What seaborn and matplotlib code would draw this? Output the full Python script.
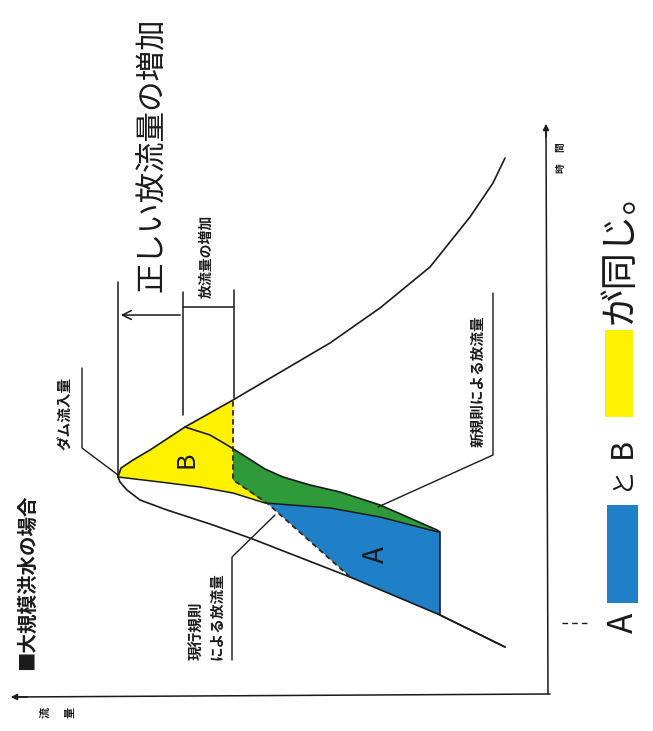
import numpy as np
import pandas as pd
import matplotlib
matplotlib.use("Agg")
import matplotlib.pyplot as plt
import seaborn as sns

sns.set_theme(style="white")
plt.rcParams['font.family'] = ['Noto Sans CJK JP', 'DejaVu Sans']

# ---- data (time upward, flow leftward, as in the rotated scan) ----
inflow_time = [43, 75, 113, 152, 166, 180, 190, 200, 208, 213, 222, 230, 240, 263, 290, 310, 347, 382, 423, 473, 507, 532]
inflow_flow = [40, 105, 195, 295, 335, 378, 405, 418, 425, 427, 424, 412, 395, 360, 312, 278, 215, 165, 115, 75, 52, 40]

new_rule_time = [43, 75, 158, 160, 185, 198, 205, 213, 221, 235, 245, 255, 263]
new_rule_flow = [40, 105, 105, 108, 165, 205, 235, 262, 280, 302, 318, 335, 360]

peak_line_time = [158, 173, 182, 187, 197, 203, 208, 213]
peak_line_flow = [107, 165, 215, 280, 312, 345, 385, 427]

current_rule_time = [113, 187, 210, 290]
current_rule_flow = [195, 278, 312, 312]

BLUE = "#1f80c8"
YELLOW = "#fff200"
GREEN = "#2f9a3a"
INK = "#1a1a1a"

W, H = 653, 731
fig = plt.figure(figsize=(W / 100, H / 100), dpi=100)
ax = fig.add_axes([0, 0, 1, 1])
ax.set_xlim(545, 545 - W)
ax.set_ylim(690 - H, 690)
ax.axis("off")


def P(px, py):
    """layout helper: pixel position of the scan -> data coords"""
    return 545 - px, 690 - py


inf = pd.DataFrame({"time": inflow_time, "flow": inflow_flow})
new = pd.DataFrame({"time": new_rule_time, "flow": new_rule_flow})
pk = pd.DataFrame({"time": peak_line_time, "flow": peak_line_flow})
cur = pd.DataFrame({"time": current_rule_time, "flow": current_rule_flow})

# ---- coloured areas ----
# A (blue): peak line (low part) -> new-rule constant -> inflow -> current rule
a_f = list(pk.flow[:4][::-1]) + [new.flow[2], new.flow[1]] + [inf.flow[2]] + [cur.flow[1]]
a_t = list(pk.time[:4][::-1]) + [new.time[2], new.time[1]] + [inf.time[2]] + [cur.time[1]]
ax.fill(a_f, a_t, color=BLUE, lw=0, zorder=1)

# B (yellow): inflow from peak to current-rule max, current rule down, peak line back
b_f = list(inf.flow[9:15]) + [cur.flow[2], cur.flow[1]] + list(pk.flow[3:])
b_t = list(inf.time[9:15]) + [cur.time[2], cur.time[1]] + list(pk.time[3:])
ax.fill(b_f, b_t, color=YELLOW, lw=0, zorder=1)

# green strip between new rule and peak line
t_cross = np.interp(312, new.flow[8:11], new.time[8:11])
sel = new.flow < 312
g_f = [312] + list(new.flow[sel][::-1][:-2]) + list(pk.flow[:4]) + [cur.flow[2]]
g_t = [t_cross] + list(new.time[sel][::-1][:-2]) + list(pk.time[:4]) + [cur.time[2]]
ax.fill(g_f, g_t, color=GREEN, lw=0, zorder=1)

# ---- curves ----
kw = dict(sort=False, estimator=None, ax=ax, legend=False)
sns.lineplot(data=inf, x="flow", y="time", color=INK, lw=1.2, zorder=3, **kw)
sns.lineplot(data=new, x="flow", y="time", color=INK, lw=1.2, zorder=3, **kw)
sns.lineplot(data=pk, x="flow", y="time", color=INK, lw=1.1, zorder=3, **kw)
sns.lineplot(data=cur, x="flow", y="time", color="#3b2416", lw=1.3, zorder=3,
             linestyle=(0, (3, 2)), **kw)

# ---- axes with arrows ----
ax.plot(*zip(P(550, 694), P(14, 697)), color=INK, lw=1.1)
ax.annotate("", xy=P(8, 697), xytext=P(30, 697),
            arrowprops=dict(arrowstyle="-|>", color=INK, lw=1.1, mutation_scale=9))
ax.plot(*zip(P(548, 694), P(546, 128)), color=INK, lw=1.1)
ax.annotate("", xy=P(546, 121), xytext=P(546, 140),
            arrowprops=dict(arrowstyle="-|>", color=INK, lw=1.1, mutation_scale=9))

# ---- brackets for increase of release ----
ax.plot(*zip(P(118, 282), P(118, 477)), color=INK, lw=1.1)
ax.plot(*zip(P(183, 292), P(183, 415)), color=INK, lw=1.1)
ax.plot(*zip(P(234, 290), P(234, 398)), color=INK, lw=1.1)
ax.annotate("", xy=P(118, 315), xytext=P(183, 315),
            arrowprops=dict(arrowstyle="->", color=INK, lw=1.1, mutation_scale=16))
ax.plot(*zip(P(183, 307), P(234, 307)), color=INK, lw=1.1)

# ---- leader lines ----
for pts in ([(82, 368), (82, 448), (118, 475)],
            [(232, 660), (232, 557), (275, 515)],
            [(493, 293), (493, 455), (378, 507)]):
    xs, ys = zip(*[P(*p) for p in pts])
    ax.plot(xs, ys, color=INK, lw=1.0)

# short handwritten dash
ax.plot(*zip(P(562, 623), P(590, 623)), color=INK, lw=1.0, linestyle=(0, (4, 3)))

# ---- texts ----
def T(px, py, s, size, va="center", weight="normal", **k):
    ax.text(*P(px, py), s, rotation=90, ha="center", va=va, fontsize=size,
            weight=weight, color=INK, **k)

T(27, 670, "■大規模洪水の場合", 14, va="bottom", weight="bold")
T(45, 712, "流", 8, weight="bold")
T(70, 712, "量", 8, weight="bold")
T(560, 168, "時", 7, weight="bold")
T(560, 147, "間", 7, weight="bold")
T(65, 450, "ダム流入量", 10.5, va="bottom", weight="bold")
T(196, 660, "現行規則", 10.5, va="bottom", weight="bold")
T(216, 660, "による放流量", 10.5, va="bottom", weight="bold")
T(477, 447, "新規則による放流量", 10.5, va="bottom", weight="bold")
T(207, 298, "放流量の増加", 10, va="bottom", weight="bold")
T(152, 292, "正しい放流量の増加", 22, va="bottom")
T(620, 324, "が同じ。", 27, va="bottom")
T(623, 623, "A", 24)
T(621, 477, "と", 18)
T(622, 448, "B", 22)
T(376, 555, "A", 20)
T(186, 460, "B", 18)

# legend boxes
ax.fill([P(607, 505)[0], P(638, 505)[0], P(638, 603)[0], P(607, 603)[0]],
        [P(607, 505)[1], P(638, 505)[1], P(638, 603)[1], P(607, 603)[1]], color=BLUE, lw=0)
ax.fill([P(605, 330)[0], P(633, 330)[0], P(633, 417)[0], P(605, 417)[0]],
        [P(605, 330)[1], P(633, 330)[1], P(633, 417)[1], P(605, 417)[1]], color=YELLOW, lw=0)

fig.savefig("out.png", dpi=100)
